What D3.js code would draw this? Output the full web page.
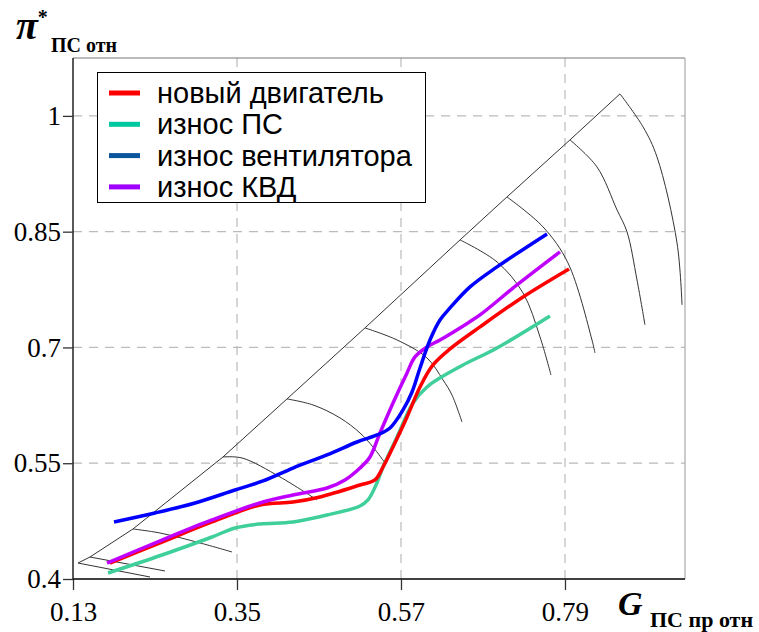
<!DOCTYPE html>
<html>
<head>
<meta charset="utf-8">
<script src="https://cdn.jsdelivr.net/npm/d3@7"></script>
<style>
  body { margin: 0; background: #fff; }
  svg { display: block; }
</style>
</head>
<body>
<div id="chart"></div>
<script>
// categories / legend
var seriesNames = ['новый двигатель', 'износ ПС', 'износ вентилятора', 'износ КВД'];
var legendColors = ['#ff0000', '#00c8a0', '#0b559c', '#a000ff'];
var lineColors = ['#ff0000', '#3fcf9a', '#0000ff', '#c000ff'];

var xTicks = [0.13, 0.35, 0.57, 0.79];
var yTicks = [0.4, 0.55, 0.7, 0.85, 1];

// G (x) values and pi* (y) values of each working line
var newX = [0.1796, 0.2494, 0.3165, 0.3809, 0.4251, 0.4614, 0.5150, 0.5351, 0.5459, 0.5593, 0.5781, 0.5955, 0.6129, 0.6358, 0.6760, 0.7337, 0.7954];
var newY = [0.4207, 0.4479, 0.4739, 0.4959, 0.4998, 0.5063, 0.5218, 0.5283, 0.5451, 0.5711, 0.6099, 0.6488, 0.6773, 0.6981, 0.7266, 0.7654, 0.8017];

var psX = [0.1770, 0.2494, 0.3165, 0.3473, 0.3809, 0.4251, 0.4707, 0.5150, 0.5257, 0.5365, 0.5459, 0.5647, 0.5861, 0.6049, 0.6223, 0.6532, 0.6988, 0.7699];
var psY = [0.4078, 0.4311, 0.4544, 0.4661, 0.4713, 0.4739, 0.4829, 0.4946, 0.5024, 0.5218, 0.5451, 0.5840, 0.6281, 0.6488, 0.6605, 0.6773, 0.6994, 0.7408];

var fanX = [0.1850, 0.2400, 0.2937, 0.3473, 0.3849, 0.4251, 0.4707, 0.5110, 0.5378, 0.5553, 0.5727, 0.5848, 0.5955, 0.6089, 0.6223, 0.6358, 0.6626, 0.6988, 0.7659];
var fanY = [0.4739, 0.4855, 0.4985, 0.5153, 0.5270, 0.5438, 0.5607, 0.5775, 0.5866, 0.5957, 0.6190, 0.6423, 0.6734, 0.7097, 0.7356, 0.7512, 0.7784, 0.8043, 0.8471];

var hpcX = [0.1756, 0.2494, 0.3165, 0.3849, 0.4251, 0.4707, 0.4949, 0.5150, 0.5284, 0.5418, 0.5593, 0.5781, 0.5888, 0.6049, 0.6223, 0.6599, 0.6760, 0.7256, 0.7833];
var hpcY = [0.4207, 0.4505, 0.4765, 0.4998, 0.5089, 0.5179, 0.5283, 0.5438, 0.5581, 0.5892, 0.6281, 0.6670, 0.6877, 0.7006, 0.7097, 0.7318, 0.7421, 0.7810, 0.8238];

// constant speed lines of the map, [G, pi*]; first point lies on the surge line
var speedLines = [
  [[0.1367, 0.4207], [0.2333, 0.4026]],
  [[0.1528, 0.4285], [0.2534, 0.4104]],
  [[0.2105, 0.4648], [0.2467, 0.4596], [0.3004, 0.4467], [0.3433, 0.4350]],
  [[0.3312, 0.5581], [0.3567, 0.5568], [0.4077, 0.5322], [0.4573, 0.5024]],
  [[0.4171, 0.6333], [0.4520, 0.6255], [0.4882, 0.6087], [0.5150, 0.5892], [0.5324, 0.5711], [0.5486, 0.5503]],
  [[0.5217, 0.7253], [0.5647, 0.7097], [0.6049, 0.6864], [0.6264, 0.6579], [0.6384, 0.6384], [0.6518, 0.6035]],
  [[0.6492, 0.8393], [0.6988, 0.8108], [0.7337, 0.7706], [0.7565, 0.7136], [0.7712, 0.6644]],
  [[0.7122, 0.8950], [0.7605, 0.8562], [0.7940, 0.8095], [0.8262, 0.7097], [0.8302, 0.6929]],
  [[0.7967, 0.9689], [0.8329, 0.9339], [0.8598, 0.8782], [0.8732, 0.8497], [0.8866, 0.7875], [0.8973, 0.7292]],
  [[0.8638, 1.0285], [0.8947, 0.9858], [0.9134, 0.9469], [0.9403, 0.8354], [0.9470, 0.7551]]
];

var seriesX = [newX, psX, fanX, hpcX];
var seriesY = [newY, psY, fanY, hpcY];
var drawOrder = [1, 0, 3, 2];

var width = 759,
    height = 632;
var plotL = 73, plotR = 685, plotT = 58, plotB = 579;

var x = d3.scaleLinear().domain([0.13, 0.951]).range([plotL, plotR]);
var y = d3.scaleLinear().domain([0.4, 1.075]).range([plotB, plotT]);

var svg = d3.select('#chart').append('svg')
    .attr('width', width)
    .attr('height', height);

// grid
svg.append('g').selectAll('line').data(xTicks.slice(1))
  .enter().append('line')
    .attr('x1', function(d) { return x(d); })
    .attr('x2', function(d) { return x(d); })
    .attr('y1', plotT)
    .attr('y2', plotB)
    .attr('stroke', '#bbb')
    .attr('stroke-width', 1.2)
    .attr('stroke-dasharray', '9,7');

svg.append('g').selectAll('line').data(yTicks.slice(1))
  .enter().append('line')
    .attr('x1', plotL)
    .attr('x2', plotR)
    .attr('y1', function(d) { return y(d); })
    .attr('y2', function(d) { return y(d); })
    .attr('stroke', '#bbb')
    .attr('stroke-width', 1.2)
    .attr('stroke-dasharray', '9,7');

// top and right frame
svg.append('line').attr('x1', plotL).attr('x2', plotR).attr('y1', plotT).attr('y2', plotT)
    .attr('stroke', '#777').attr('stroke-width', 1);
svg.append('line').attr('x1', plotR).attr('x2', plotR).attr('y1', plotT).attr('y2', plotB)
    .attr('stroke', '#aaa').attr('stroke-width', 1.2);

// compressor map
var mapLine = d3.line()
    .x(function(d) { return x(d[0]); })
    .y(function(d) { return y(d[1]); })
    .curve(d3.curveCatmullRom);

svg.append('g').selectAll('path').data(speedLines)
  .enter().append('path')
    .attr('d', mapLine)
    .attr('fill', 'none')
    .attr('stroke', '#333')
    .attr('stroke-width', 1);

var surge = speedLines.map(function(l) { return l[0]; });
svg.append('path')
    .attr('d', d3.line().x(function(d) { return x(d[0]); }).y(function(d) { return y(d[1]); })(surge))
    .attr('fill', 'none')
    .attr('stroke', '#333')
    .attr('stroke-width', 1);

// working lines
var workLine = d3.line()
    .x(function(d) { return x(d[0]); })
    .y(function(d) { return y(d[1]); })
    .curve(d3.curveCatmullRom.alpha(0.5));

drawOrder.forEach(function(i) {
  var pts = seriesX[i].map(function(v, j) { return [v, seriesY[i][j]]; });
  svg.append('path')
      .attr('d', workLine(pts))
      .attr('fill', 'none')
      .attr('stroke', lineColors[i])
      .attr('stroke-width', 3.5)
      .attr('stroke-linejoin', 'round');
});

// axes
var serif = '"Liberation Serif", "Times New Roman", serif';

var xAxis = svg.append('g')
    .attr('transform', 'translate(0,' + plotB + ')')
    .call(d3.axisBottom(x).tickValues(xTicks).tickFormat(d3.format('.2f')).tickSizeOuter(0).tickSize(11).tickPadding(12));
xAxis.select('.domain').attr('d', 'M' + plotL + ',0H' + plotR).attr('stroke', '#000').attr('stroke-width', 1.3);
xAxis.selectAll('.tick line').attr('stroke', '#333').attr('stroke-width', 1.3);
xAxis.selectAll('text')
    .style('font-family', serif)
    .style('font-size', '27px')
    .attr('fill', '#000');

var yAxis = svg.append('g')
    .attr('transform', 'translate(' + plotL + ',0)')
    .call(d3.axisLeft(y).tickValues(yTicks).tickFormat(d3.format('')).tickSizeOuter(0).tickSize(10).tickPadding(2));
yAxis.select('.domain').attr('d', 'M0,' + plotT + 'V' + (plotB + 1)).attr('stroke', '#000').attr('stroke-width', 1.3);
yAxis.selectAll('.tick line').attr('stroke', '#333').attr('stroke-width', 1.3);
yAxis.selectAll('text')
    .style('font-family', serif)
    .style('font-size', '27px')
    .attr('fill', '#000');

// axis titles
var yt = svg.append('text').attr('x', 16).attr('y', 39)
    .style('font-family', serif).attr('fill', '#000');
yt.append('tspan').text('π').style('font-size', '40px').style('font-weight', 'bold').style('font-style', 'italic');
yt.append('tspan').text('*').attr('dy', -15).style('font-size', '20px').style('font-weight', 'bold');
yt.append('tspan').text('ПС отн').attr('x', 51).attr('y', 52).style('font-size', '20px').style('font-weight', 'bold');

var xt = svg.append('text').attr('x', 618).attr('y', 615)
    .style('font-family', serif).attr('fill', '#000');
xt.append('tspan').text('G').style('font-size', '34px').style('font-weight', 'bold').style('font-style', 'italic');
xt.append('tspan').text('ПС пр отн').attr('x', 650).attr('y', 627).style('font-size', '22px').style('font-weight', 'bold');

// legend
var legend = svg.append('g');
legend.append('rect')
    .attr('x', 97.5).attr('y', 72.5)
    .attr('width', 328).attr('height', 130)
    .attr('fill', '#fff')
    .attr('stroke', '#000')
    .attr('stroke-width', 1);

var rows = legend.selectAll('g.row').data(seriesNames)
  .enter().append('g')
    .attr('transform', function(d, i) { return 'translate(0,' + (93 + i * 31.3) + ')'; });
rows.append('line')
    .attr('x1', 109).attr('x2', 140)
    .attr('stroke', function(d, i) { return legendColors[i]; })
    .attr('stroke-width', 5);
rows.append('text')
    .attr('x', 157).attr('y', 10)
    .text(function(d) { return d; })
    .style('font-family', '"Liberation Sans", Arial, sans-serif')
    .style('font-size', '29px')
    .attr('fill', '#000');
</script>
</body>
</html>
